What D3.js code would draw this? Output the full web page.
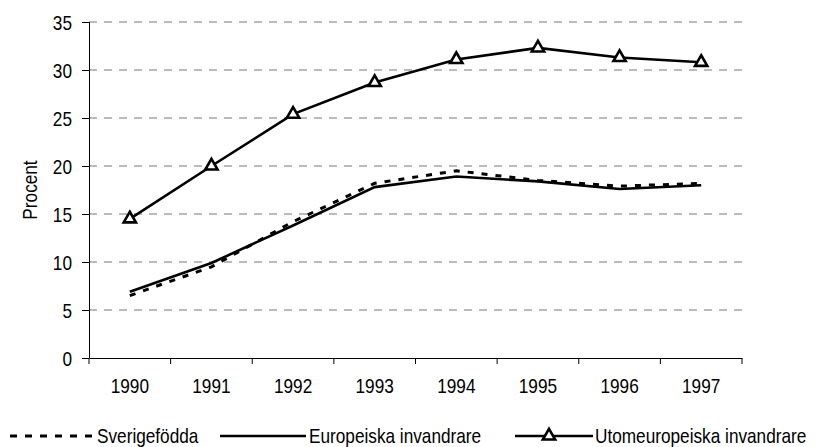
<!DOCTYPE html>
<html>
<head>
<meta charset="utf-8">
<script src="https://cdn.jsdelivr.net/npm/d3@7"></script>
<style>
  body { margin: 0; background: #fff; }
  text { font-family: "Liberation Sans", Arial, sans-serif; fill: #000; }
</style>
</head>
<body>
<svg id="chart" width="820" height="447"></svg>
<script>
// data
const years = ["1990", "1991", "1992", "1993", "1994", "1995", "1996", "1997"];
const sverigefodda = [6.5, 9.5, 14.2, 18.2, 19.5, 18.5, 17.9, 18.2];
const europeiska = [6.9, 9.9, 13.8, 17.8, 18.9, 18.4, 17.6, 18.0];
const utomeuropeiska = [14.5, 20.0, 25.4, 28.7, 31.1, 32.3, 31.3, 30.8];
const yTicks = [0, 5, 10, 15, 20, 25, 30, 35];

// the original uses a narrow face; squeeze Liberation Sans to match
const fs = "21px";
const sx = 0.82;
const lw = 2.6;

const svg = d3.select("#chart");
const margin = {left: 89, right: 78, top: 22, bottom: 89};
const width = 820, height = 447;

const x = d3.scaleBand().domain(years).range([margin.left, width - margin.right]);
const y = d3.scaleLinear().domain([0, 35]).range([height - margin.bottom, margin.top]);

// grid lines
svg.append("g")
  .selectAll("line")
  .data(yTicks.filter(d => d > 0))
  .join("line")
  .attr("x1", margin.left).attr("x2", width - margin.right)
  .attr("y1", d => y(d)).attr("y2", d => y(d))
  .attr("stroke", "#777")
  .attr("stroke-dasharray", "8,7");

// axes
const yAxis = svg.append("g")
  .attr("transform", `translate(${margin.left},0)`)
  .call(d3.axisLeft(y).tickValues(yTicks).tickSize(7));
const xAxis = svg.append("g")
  .attr("transform", `translate(0,${y(0)})`)
  .call(d3.axisBottom(x).tickSize(0).tickPadding(20));

// x ticks between the categories
xAxis.selectAll(".sep")
  .data(years.concat(["end"]))
  .join("line")
  .attr("class", "sep")
  .attr("x1", (d, i) => i < years.length ? x(d) : x(years[years.length - 1]) + x.bandwidth())
  .attr("x2", (d, i) => i < years.length ? x(d) : x(years[years.length - 1]) + x.bandwidth())
  .attr("y1", 0).attr("y2", 6)
  .attr("stroke", "#000");

[yAxis, xAxis].forEach(a => {
  a.select(".domain").attr("stroke", "#000");
  a.selectAll(".tick line").attr("stroke", "#000");
  a.selectAll("text").style("font-size", fs).attr("fill", "#000")
    .style("font-family", "'Liberation Sans', Arial, sans-serif")
    .attr("transform", `scale(${sx},1)`);
});
yAxis.selectAll(".tick text").attr("x", -17 / sx).attr("dy", "0.36em");
yAxis.select(".domain").attr("d", `M0.5,${y(0)}V${y(35)}`);

// y label
svg.append("text")
  .attr("transform", `translate(37,${(y(0) + y(35)) / 2}) rotate(-90) scale(${sx},1)`)
  .attr("text-anchor", "middle")
  .style("font-size", fs)
  .text("Procent");

const cx = d => x(d) + x.bandwidth() / 2;
const line = d3.line().x(d => cx(d[0])).y(d => y(d[1]));

svg.append("path")
  .datum(d3.zip(years, sverigefodda))
  .attr("d", line)
  .attr("fill", "none")
  .attr("stroke", "#000")
  .attr("stroke-width", 3)
  .attr("stroke-dasharray", "6,8");

svg.append("path")
  .datum(d3.zip(years, europeiska))
  .attr("d", line)
  .attr("fill", "none")
  .attr("stroke", "#000")
  .attr("stroke-width", lw);

svg.append("path")
  .datum(d3.zip(years, utomeuropeiska))
  .attr("d", line)
  .attr("fill", "none")
  .attr("stroke", "#000")
  .attr("stroke-width", lw);

const tri = d3.symbol().type(d3.symbolTriangle).size(65);
svg.append("g")
  .selectAll("path")
  .data(d3.zip(years, utomeuropeiska))
  .join("path")
  .attr("d", tri)
  .attr("transform", d => `translate(${cx(d[0])},${y(d[1])})`)
  .attr("fill", "#fff")
  .attr("stroke", "#000")
  .attr("stroke-width", 2.6);

// legend
const legendY = 436;
const legend = svg.append("g");
const legendText = (lx, label) => legend.append("text")
  .attr("transform", `translate(${lx},${legendY + 7}) scale(${sx},1)`)
  .style("font-size", fs)
  .text(label);

legend.append("line")
  .attr("x1", 10).attr("x2", 96).attr("y1", legendY).attr("y2", legendY)
  .attr("stroke", "#000").attr("stroke-width", 3).attr("stroke-dasharray", "7,8");
legendText(97, "Sverigefödda");

legend.append("line")
  .attr("x1", 220).attr("x2", 306).attr("y1", legendY).attr("y2", legendY)
  .attr("stroke", "#000").attr("stroke-width", lw);
legendText(309, "Europeiska invandrare");

legend.append("line")
  .attr("x1", 515).attr("x2", 593).attr("y1", legendY).attr("y2", legendY)
  .attr("stroke", "#000").attr("stroke-width", lw);
legend.append("path")
  .attr("d", tri)
  .attr("transform", `translate(549,${legendY})`)
  .attr("fill", "#fff").attr("stroke", "#000").attr("stroke-width", 2.6);
legendText(595, "Utomeuropeiska invandrare");
</script>
</body>
</html>
